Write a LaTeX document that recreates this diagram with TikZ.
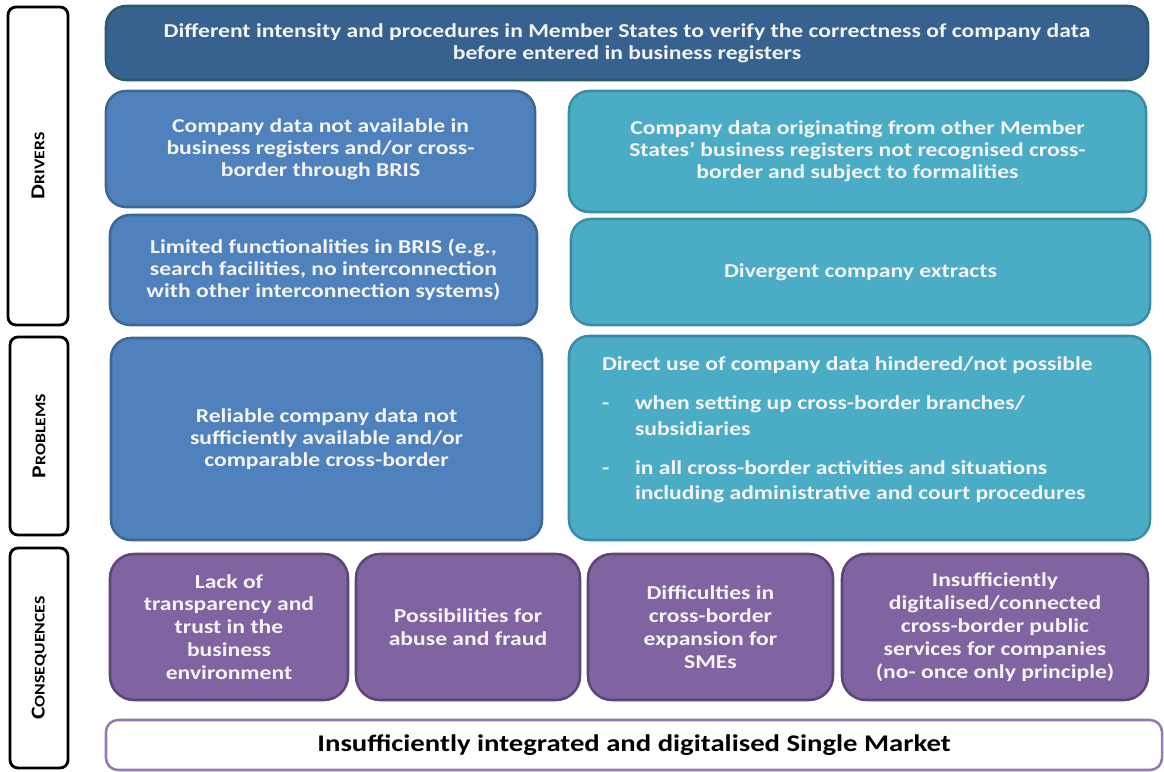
\documentclass[tikz,border=0pt]{standalone}
\usepackage{fontspec}
\setmainfont{Carlito}[FakeStretch=1.2]

\definecolor{topblue}{HTML}{37618F}
\definecolor{topline}{HTML}{2B5C6B}
\definecolor{midblue}{HTML}{4F81BD}
\definecolor{midline}{HTML}{3C6896}
\definecolor{teal}{HTML}{4BACC6}
\definecolor{tealline}{HTML}{3A8DA3}
\definecolor{violet}{HTML}{8064A2}
\definecolor{violetline}{HTML}{5C4678}
\definecolor{offwhite}{HTML}{F4F4F4}

\tikzset{
  box/.style={rounded corners=0.5cm, line width=1.8pt, text=offwhite, align=center, inner sep=0pt,
    font=\bfseries\fontsize{14}{15.8}\selectfont},
  bluebox/.style={box, fill=midblue, draw=midline},
  tealbox/.style={box, fill=teal, draw=tealline},
  conbox/.style={box, fill=violet, draw=violetline, rounded corners=0.6cm, minimum height=3.65cm,
    font=\bfseries\fontsize{14}{16.3}\selectfont},
  sidebox/.style={draw=black, line width=2pt, rounded corners=0.2cm, rotate=90, inner sep=0pt,
    font=\bfseries},
}

\newcommand{\bigsc}[2]{{\fontsize{14}{14}\selectfont #1}{\fontsize{10.5}{10.5}\selectfont #2}}

\begin{document}
\begin{tikzpicture}
\useasboundingbox (0,0) rectangle (29.1,-19.275);

% row labels
\node[sidebox, minimum width=7.95cm, minimum height=1.5cm] (drivers) at (0.95,-4.15) {\bigsc{D}{RIVERS}};
\node[sidebox, minimum width=4.95cm, minimum height=1.45cm] (problems) at (0.975,-10.9) {\bigsc{P}{ROBLEMS}};
\node[sidebox, minimum width=5.5cm, minimum height=1.45cm] (consequences) at (0.975,-16.45) {\bigsc{C}{ONSEQUENCES}};

% drivers
\node[box, fill=topblue, draw=topline, minimum width=26.05cm, minimum height=1.85cm] (procedures) at (15.675,-1.075)
  {Different intensity and procedures in Member States to verify the correctness of company data\\
   before entered in business registers};
\node[bluebox, minimum width=10.725cm, minimum height=2.9cm] (notavail) at (8.0125,-3.725)
  {Company data not available in\\business registers and/or cross-\\border through BRIS};
\node[tealbox, minimum width=14.425cm, minimum height=3.025cm] (notrecog) at (21.4375,-3.7875)
  {Company data originating from other Member\\States' business registers not recognised cross-\\border and subject to formalities};
\node[bluebox, minimum width=10.675cm, minimum height=2.75cm] (limited) at (8.0875,-6.75)
  {Limited functionalities in BRIS (e.g.,\\search facilities, no interconnection\\with other interconnection systems)};
\node[tealbox, minimum width=14.475cm, minimum height=2.65cm] (extracts) at (21.5125,-6.8)
  {Divergent company extracts};

% problems
\node[bluebox, minimum width=10.775cm, minimum height=5.05cm] (reliable) at (8.1625,-10.975)
  {Reliable company data not\\sufficiently available and/or\\comparable cross-border};
\node[tealbox, minimum width=14.525cm, minimum height=5.1cm] (directuse) at (21.4875,-10.95) {};
\node[anchor=north west, align=left, text=offwhite, inner sep=0pt,
  font=\bfseries\fontsize{14}{18.4}\selectfont] (directtext) at ([xshift=0.85cm,yshift=-0.55cm]directuse.north west)
  {Direct use of company data hindered/not possible\\[0.32cm]
   \makebox[0.825cm][l]{-}when setting up cross-border branches/\\
   \hspace*{0.825cm}subsidiaries\\[0.32cm]
   \makebox[0.825cm][l]{-}in all cross-border activities and situations\\
   \hspace*{0.825cm}including administrative and court procedures};

% consequences
\node[conbox, minimum width=5.95cm] (transparency) at (5.725,-15.675)
  {Lack of\\transparency and\\trust in the\\business\\environment};
\node[conbox, minimum width=5.6cm] (fraud) at (11.7,-15.675)
  {Possibilities for\\abuse and fraud};
\node[conbox, minimum width=6.125cm] (smes) at (17.7625,-15.675)
  {Difficulties in\\cross-border\\expansion for\\SMEs};
\node[conbox, minimum width=7.65cm] (services) at (24.875,-15.675)
  {Insufficiently\\digitalised/connected\\cross-border public\\services for companies\\(no- once only principle)};

\node[box, fill=white, draw=violet!85, text=black, rounded corners=0.3cm, minimum width=26.4cm, minimum height=1.25cm,
  font=\bfseries\fontsize{17}{19}\selectfont] (market) at (15.85,-18.625)
  {Insufficiently integrated and digitalised Single Market};
\end{tikzpicture}
\end{document}
